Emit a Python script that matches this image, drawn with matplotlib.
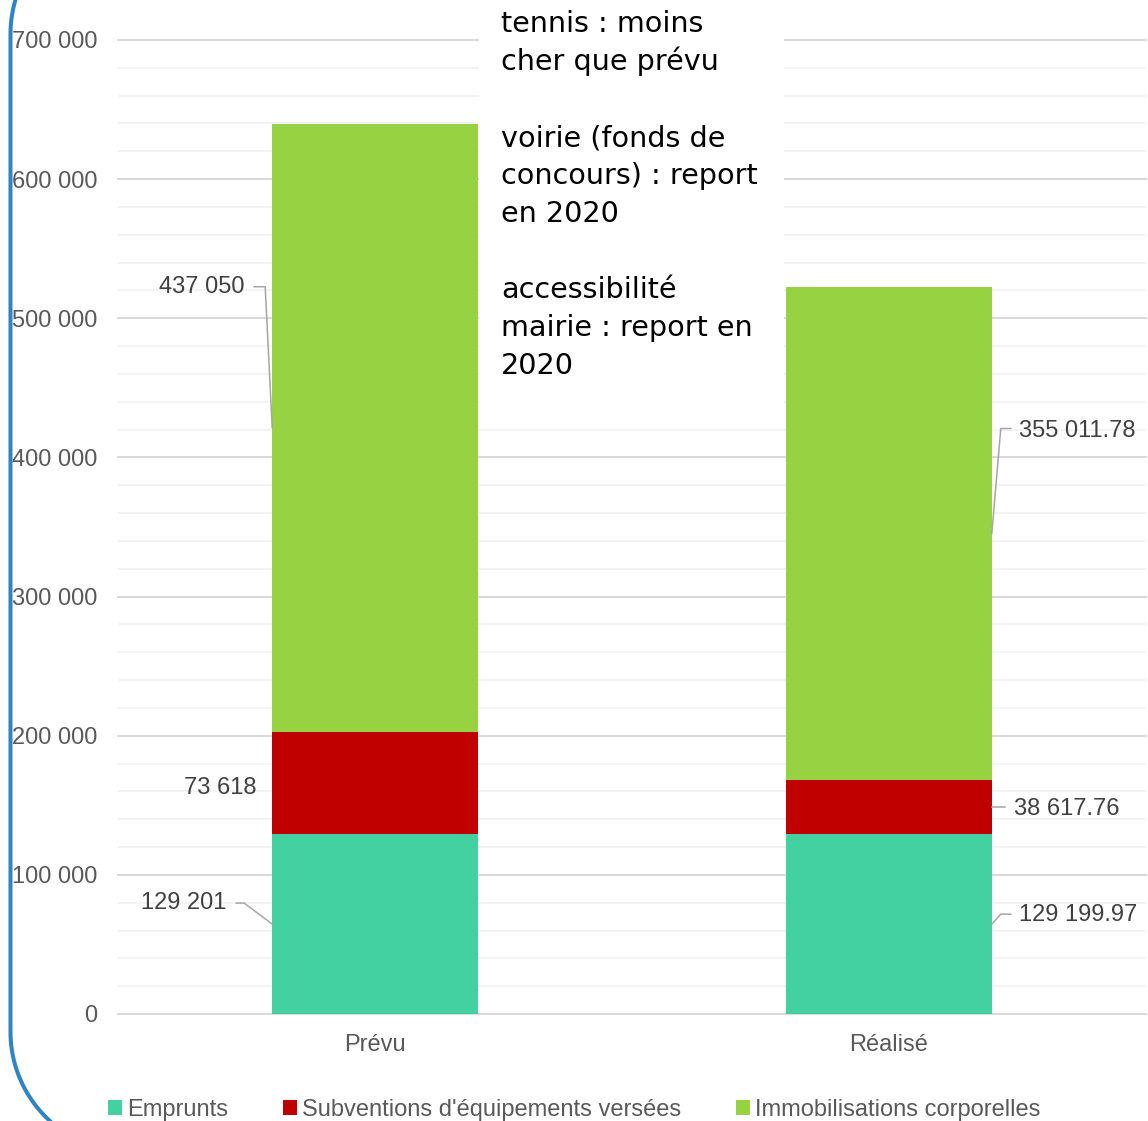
import matplotlib
matplotlib.use('Agg')
import matplotlib.pyplot as plt
from matplotlib.patches import Rectangle, Patch
from matplotlib.lines import Line2D
from matplotlib.transforms import IdentityTransform
import numpy as np

# ---------------- data ----------------
categories = ['Prévu', 'Réalisé']
series_names = ['Emprunts', "Subventions d'équipements versées", 'Immobilisations corporelles']
emprunts = [129201, 129199.97]
subventions = [73618, 38617.76]
immobilisations = [437050, 355011.78]
series_colors = ['#43D1A2', '#C00000', '#97D243']
y_ticks = [0, 100000, 200000, 300000, 400000, 500000, 600000, 700000]
y_tick_labels = ['0', '100 000', '200 000', '300 000', '400 000', '500 000', '600 000', '700 000']
note_lines = ['tennis : moins', 'cher que prévu', '',
              'voirie (fonds de', 'concours) : report', 'en 2020', '',
              'accessibilité', 'mairie : report en', '2020']


def fmt(v):
    s = f"{v:,.2f}".replace(',', ' ')
    if s.endswith('.00'):
        s = s[:-3]
    return s


W, H = 1148, 1121
fig = plt.figure(figsize=(W / 100, H / 100), dpi=100)
fig.patch.set_facecolor('white')
plt.rcParams['font.family'] = ['Liberation Sans', 'DejaVu Sans']

ax = fig.add_axes([118 / W, 107 / H, (1146 - 118) / W, (1014 - 40) / H])
x = np.arange(len(categories))
width = 0.4
values = [emprunts, subventions, immobilisations]
bottom = np.zeros(len(categories))
bottoms = []
for vals, name, col in zip(values, series_names, series_colors):
    ax.bar(x, vals, width, bottom=bottom, color=col, label=name, zorder=3)
    bottoms.append(bottom.copy())
    bottom = bottom + np.array(vals)

ax.set_xlim(-0.5, 1.5)
ax.set_ylim(0, 700000)
ax.set_yticks(y_ticks)
ax.set_yticklabels(y_tick_labels)
ax.set_yticks(np.arange(0, 700001, 20000), minor=True)
ax.set_xticks(x)
ax.set_xticklabels(categories)
ax.tick_params(axis='both', which='both', length=0, labelsize=17, labelcolor='#595959')
ax.tick_params(axis='y', pad=15)
ax.tick_params(axis='x', pad=14.5)
ax.yaxis.grid(True, which='minor', color='#F2F2F2', lw=1.3, zorder=0)
ax.yaxis.grid(True, which='major', color='#D9D9D9', lw=1.4, zorder=1)
for gl in ax.get_ygridlines():
    gl.set_clip_on(False)
ax.set_axisbelow(True)
for sp in ax.spines.values():
    sp.set_visible(False)

# ---------------- data labels with leaders ----------------
tr = ax.transData
label_color = '#404040'
leader_color = '#A6A6A6'
# (text dx, text dy, leader point offsets) in pixels relative to bar edge midpoint
layout = {
    (0, 0): (-46, 21, [(-36, 21), (-28, 21)]),
    (0, 1): (-16, -5, None),
    (0, 2): (-28, 141, [(-18, 141), (-7, 141)]),
    (1, 0): (27, 9, [(19, 10), (9, 10)]),
    (1, 1): (22, -2, [(13, 0)]),
    (1, 2): (27, 103, [(19, 105), (9, 105)]),
}
for s, vals in enumerate(values):
    for c in range(len(categories)):
        mid = bottoms[s][c] + vals[c] / 2
        edge = x[c] - width / 2 if c == 0 else x[c] + width / 2
        px, py = tr.transform((edge, mid))
        dx, dy, pts = layout[(c, s)]
        ha = 'right' if c == 0 else 'left'
        fig.text(px + dx, py + dy, fmt(vals[c]), transform=IdentityTransform(),
                 ha=ha, va='center', fontsize=17, color=label_color)
        if pts:
            xs = [px + a for a, b in pts] + [px]
            ys = [py + b for a, b in pts] + [py]
            fig.add_artist(Line2D(xs, ys, transform=IdentityTransform(),
                                  color=leader_color, lw=1.1))

# ---------------- white note box ----------------
fig.add_artist(Rectangle((479, H - 412), 305, 420, transform=IdentityTransform(),
                         facecolor='white', edgecolor='none', zorder=5))
for i, line in enumerate(note_lines):
    if line:
        fig.text(501, H - (32 + 38 * i), line, transform=IdentityTransform(),
                 ha='left', va='baseline', fontsize=20.6, color='black',
                 family='DejaVu Sans', zorder=6)

# ---------------- legend ----------------
handles = [Patch(facecolor=c, edgecolor='none') for c in series_colors]
fig.legend(handles, series_names, loc='center', bbox_to_anchor=(0.5, 11 / H),
           ncol=3, frameon=False, fontsize=17, labelcolor='#595959',
           handlelength=0.6, handleheight=0.6, handletextpad=0.2,
           columnspacing=2.33, borderaxespad=0, borderpad=0)

# ---------------- blue rounded border (left edge of a frame) ----------------
r = 120.0
xl = 10.5
top_cy = H - 34.0      # centre of top-left arc (display coords)
bot_cy = H - 1032.0    # centre of bottom-left arc
t_top = np.linspace(np.pi / 2, np.pi, 60)
t_bot = np.linspace(np.pi, 1.5 * np.pi, 60)
bx = np.concatenate([xl + r + r * np.cos(t_top), xl + r + r * np.cos(t_bot)])
by = np.concatenate([top_cy + r * np.sin(t_top), bot_cy + r * np.sin(t_bot)])
fig.add_artist(Line2D(bx, by, transform=IdentityTransform(),
                      color='#2F84C6', lw=2.9, zorder=10,
                      solid_capstyle='butt'))

fig.savefig('out.png', dpi=100)
